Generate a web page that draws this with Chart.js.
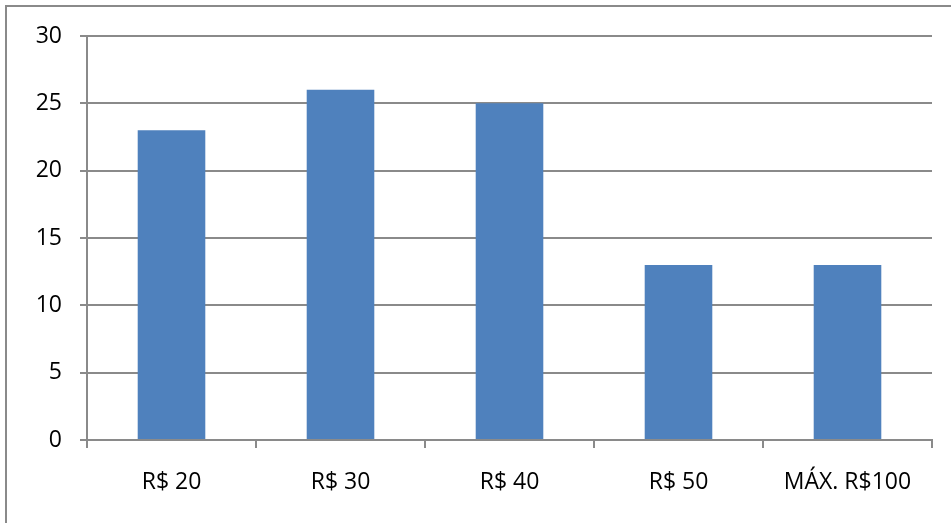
<!DOCTYPE html>
<html>
<head>
<meta charset="utf-8">
<script src="https://cdn.jsdelivr.net/npm/chart.js@4.4.1/dist/chart.umd.min.js"></script>
<style>
  html, body { margin: 0; padding: 0; overflow: hidden; background: #fff; }
  #marco {
    position: absolute; left: 5px; top: 5px;
    width: 1000px; height: 600px;
    border: 2px solid #8a8a8a;
  }
  #contenedor { position: absolute; left: 0; top: 0; width: 951px; height: 523px; }
</style>
</head>
<body>
<div id="marco"></div>
<div id="contenedor"><canvas id="grafico" width="951" height="523"></canvas></div>
<script>
var etiquetas = ['R$ 20', 'R$ 30', 'R$ 40', 'R$ 50', 'MÁX. R$100'];
var valores = [23, 26, 25, 13, 13];
var ejeMin = 0;
var ejeMax = 30;
var ejePaso = 5;

var gris = '#8a8a8a';

function generarchart(etiquetas, valores, ctx) {

  return new Chart(ctx, {
    type: 'bar',
    data: {
      labels: etiquetas,
      datasets: [{
        label: 'Valores',
        data: valores,
        backgroundColor: '#4f81bd',
        borderWidth: 0,
        barPercentage: 0.4,
        categoryPercentage: 1
      }]
    },
    options: {
      responsive: false,
      animation: false,
      layout: {
        padding: { top: 36, right: 19, bottom: 0, left: 0 }
      },
      scales: {
        x: {
          offset: true,
          grid: {
            offset: true,
            drawOnChartArea: false,
            drawTicks: true,
            tickLength: 8,
            color: gris,
            lineWidth: 2
          },
          border: { color: gris, width: 2 },
          ticks: {
            color: '#000',
            padding: 21,
            maxRotation: 0,
            font: { family: 'Open Sans', size: 23 }
          },
          afterFit: function (escala) { escala.height = 83; }
        },
        y: {
          min: ejeMin,
          max: ejeMax,
          grid: {
            color: gris,
            lineWidth: 2,
            drawTicks: true,
            tickLength: 7
          },
          border: { color: gris, width: 2 },
          ticks: {
            stepSize: ejePaso,
            color: '#000',
            padding: 18,
            font: { family: 'Open Sans', size: 23 }
          },
          afterFit: function (escala) { escala.width = 87; }
        }
      },
      plugins: {
        legend: { display: false },
        tooltip: { enabled: false }
      }
    }
  });
}

var ctx = document.getElementById('grafico');
var grafico = generarchart(etiquetas, valores, ctx);
</script>
</body>
</html>
